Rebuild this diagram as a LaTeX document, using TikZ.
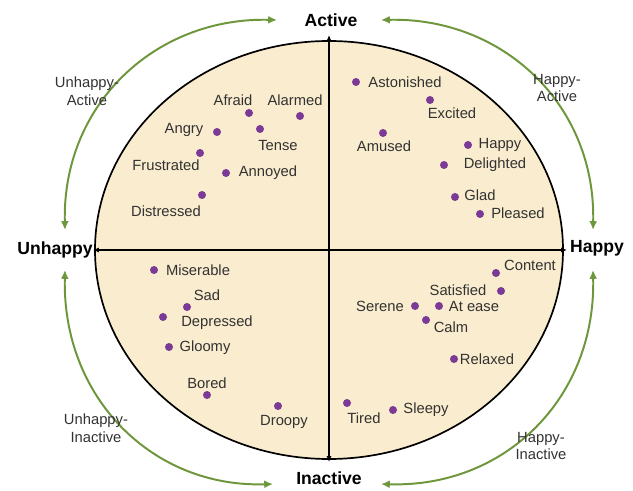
\documentclass[tikz,border=0pt]{standalone}
\usepackage{fontspec}
\setmainfont{Liberation Sans}
\definecolor{Sand}{RGB}{250, 236, 206}
\definecolor{Plum}{RGB}{123, 58, 150}
\definecolor{Leaf}{RGB}{110, 150, 60}
\definecolor{Ink}{RGB}{50, 50, 50}
\usetikzlibrary{arrows.meta}

\begin{document}
\begin{tikzpicture}[every node/.style={font=\fontsize{10.5}{12.5}\selectfont, text=Ink},
        mood/.style={circle, fill=Plum, inner sep=0pt, minimum size=2mm},
        pole/.style={font=\fontsize{12.5}{14}\selectfont\bfseries, text=black},
        swing/.style={{Latex[length=2.2mm, width=2mm]}-{Latex[length=2.2mm, width=2mm]}, Leaf, line width=1.4pt},
        quad/.style={align=center}]
        \useasboundingbox (-8.225,-6.025) rectangle (7.6,6.25);

        % Circle
        \draw[fill=Sand, line width=1.2pt] (0,0) ellipse (5.85 and 5.225);

        % Axes
        \coordinate (axN) at (0,5.375);
        \coordinate (axS) at (0,-5.3);
        \coordinate (axW) at (-5.9,0);
        \coordinate (axE) at (5.95,0);
        \draw[{Latex[length=1.5mm, width=1.3mm]}-{Latex[length=1.5mm, width=1.3mm]}, line width=0.8pt] (axN) -- (axS);
        \draw[{Latex[length=1.5mm, width=1.3mm]}-{Latex[length=1.5mm, width=1.3mm]}, line width=0.8pt] (axW) -- (axE);

        % Poles
        \node[pole] (active) at (0.05,5.75) {Active};
        \node[pole] (inactive) at (0,-5.7) {Inactive};
        \node[pole] (unhappy) at (-6.85,0) {Unhappy};
        \node[pole] (happy) at (6.7,0.05) {Happy};

        % Green arcs
        \coordinate (ua1) at (-6.6,0.5);
        \coordinate (ua2) at (-1.3,5.75);
        \draw[swing] (ua1) .. controls (-6.675,3.625) and (-4.35,5.825) .. (ua2);
        \coordinate (ha1) at (6.6,0.5);
        \coordinate (ha2) at (1.3,5.75);
        \draw[swing] (ha1) .. controls (6.675,3.625) and (4.35,5.825) .. (ha2);
        \coordinate (ui1) at (-6.6,-0.5);
        \coordinate (ui2) at (-1.4,-5.85);
        \draw[swing] (ui1) .. controls (-6.675,-3.7) and (-4.4,-5.95) .. (ui2);
        \coordinate (hi1) at (6.6,-0.5);
        \coordinate (hi2) at (1.3,-5.85);
        \draw[swing] (hi1) .. controls (6.675,-3.7) and (4.4,-5.95) .. (hi2);

        % Quadrant names
        \node[quad] (ua) at (-6.05,3.975) {Unhappy-\\Active};
        \node[quad] (ha) at (5.7,4.05) {Happy-\\Active};
        \node[quad] (ui) at (-5.825,-4.45) {Unhappy-\\Inactive};
        \node[quad] (hi) at (5.3,-4.9) {Happy-\\Inactive};

        % Unhappy-Active
        \node[mood] (afraid) at (-2.0,3.425) {};
        \node (afraid-l) at (-2.4,3.75) {Afraid};
        \node[mood] (alarmed) at (-0.725,3.35) {};
        \node (alarmed-l) at (-0.85,3.75) {Alarmed};
        \node[mood] (angry) at (-2.8,2.95) {};
        \node (angry-l) at (-3.625,3.0) {Angry};
        \node[mood] (tense) at (-1.725,3.025) {};
        \node (tense-l) at (-1.275,2.625) {Tense};
        \node[mood] (frustrated) at (-3.225,2.425) {};
        \node (frustrated-l) at (-4.075,2.125) {Frustrated};
        \node[mood] (annoyed) at (-2.575,1.925) {};
        \node (annoyed-l) at (-1.525,1.925) {Annoyed};
        \node[mood] (distressed) at (-3.175,1.375) {};
        \node (distressed-l) at (-4.075,0.975) {Distressed};

        % Happy-Active
        \node[mood] (astonished) at (0.675,4.2) {};
        \node (astonished-l) at (1.9,4.2) {Astonished};
        \node[mood] (excited) at (2.525,3.75) {};
        \node (excited-l) at (3.075,3.425) {Excited};
        \node[mood] (amused) at (1.35,2.925) {};
        \node (amused-l) at (1.375,2.6) {Amused};
        \node[mood] (happyd) at (3.475,2.625) {};
        \node (happyd-l) at (4.275,2.625) {Happy};
        \node[mood] (delighted) at (2.875,2.125) {};
        \node (delighted-l) at (4.15,2.125) {Delighted};
        \node[mood] (glad) at (3.15,1.325) {};
        \node (glad-l) at (3.775,1.375) {Glad};
        \node[mood] (pleased) at (3.775,0.9) {};
        \node (pleased-l) at (4.725,0.925) {Pleased};

        % Unhappy-Inactive
        \node[mood] (miserable) at (-4.375,-0.5) {};
        \node (miserable-l) at (-3.275,-0.5) {Miserable};
        \node[mood] (sad) at (-3.55,-1.425) {};
        \node (sad-l) at (-3.05,-1.125) {Sad};
        \node[mood] (depressed) at (-4.15,-1.675) {};
        \node (depressed-l) at (-2.8,-1.825) {Depressed};
        \node[mood] (gloomy) at (-4.0,-2.425) {};
        \node (gloomy-l) at (-3.1,-2.45) {Gloomy};
        \node[mood] (bored) at (-3.05,-3.625) {};
        \node (bored-l) at (-3.05,-3.325) {Bored};
        \node[mood] (droopy) at (-1.275,-3.9) {};
        \node (droopy-l) at (-1.125,-4.3) {Droopy};

        % Happy-Inactive
        \node[mood] (content) at (4.175,-0.575) {};
        \node (content-l) at (5.025,-0.375) {Content};
        \node[mood] (satisfied) at (4.3,-1.025) {};
        \node (satisfied-l) at (3.225,-1.0) {Satisfied};
        \node[mood] (serene) at (2.15,-1.4) {};
        \node (serene-l) at (1.275,-1.4) {Serene};
        \node[mood] (atease) at (2.75,-1.4) {};
        \node (atease-l) at (3.625,-1.4) {At ease};
        \node[mood] (calm) at (2.425,-1.75) {};
        \node (calm-l) at (3.05,-1.925) {Calm};
        \node[mood] (relaxed) at (3.125,-2.725) {};
        \node (relaxed-l) at (3.95,-2.725) {Relaxed};
        \node[mood] (tired) at (0.45,-3.825) {};
        \node (tired-l) at (0.875,-4.2) {Tired};
        \node[mood] (sleepy) at (1.6,-4.0) {};
        \node (sleepy-l) at (2.425,-4.0) {Sleepy};
    \end{tikzpicture}
\end{document}
